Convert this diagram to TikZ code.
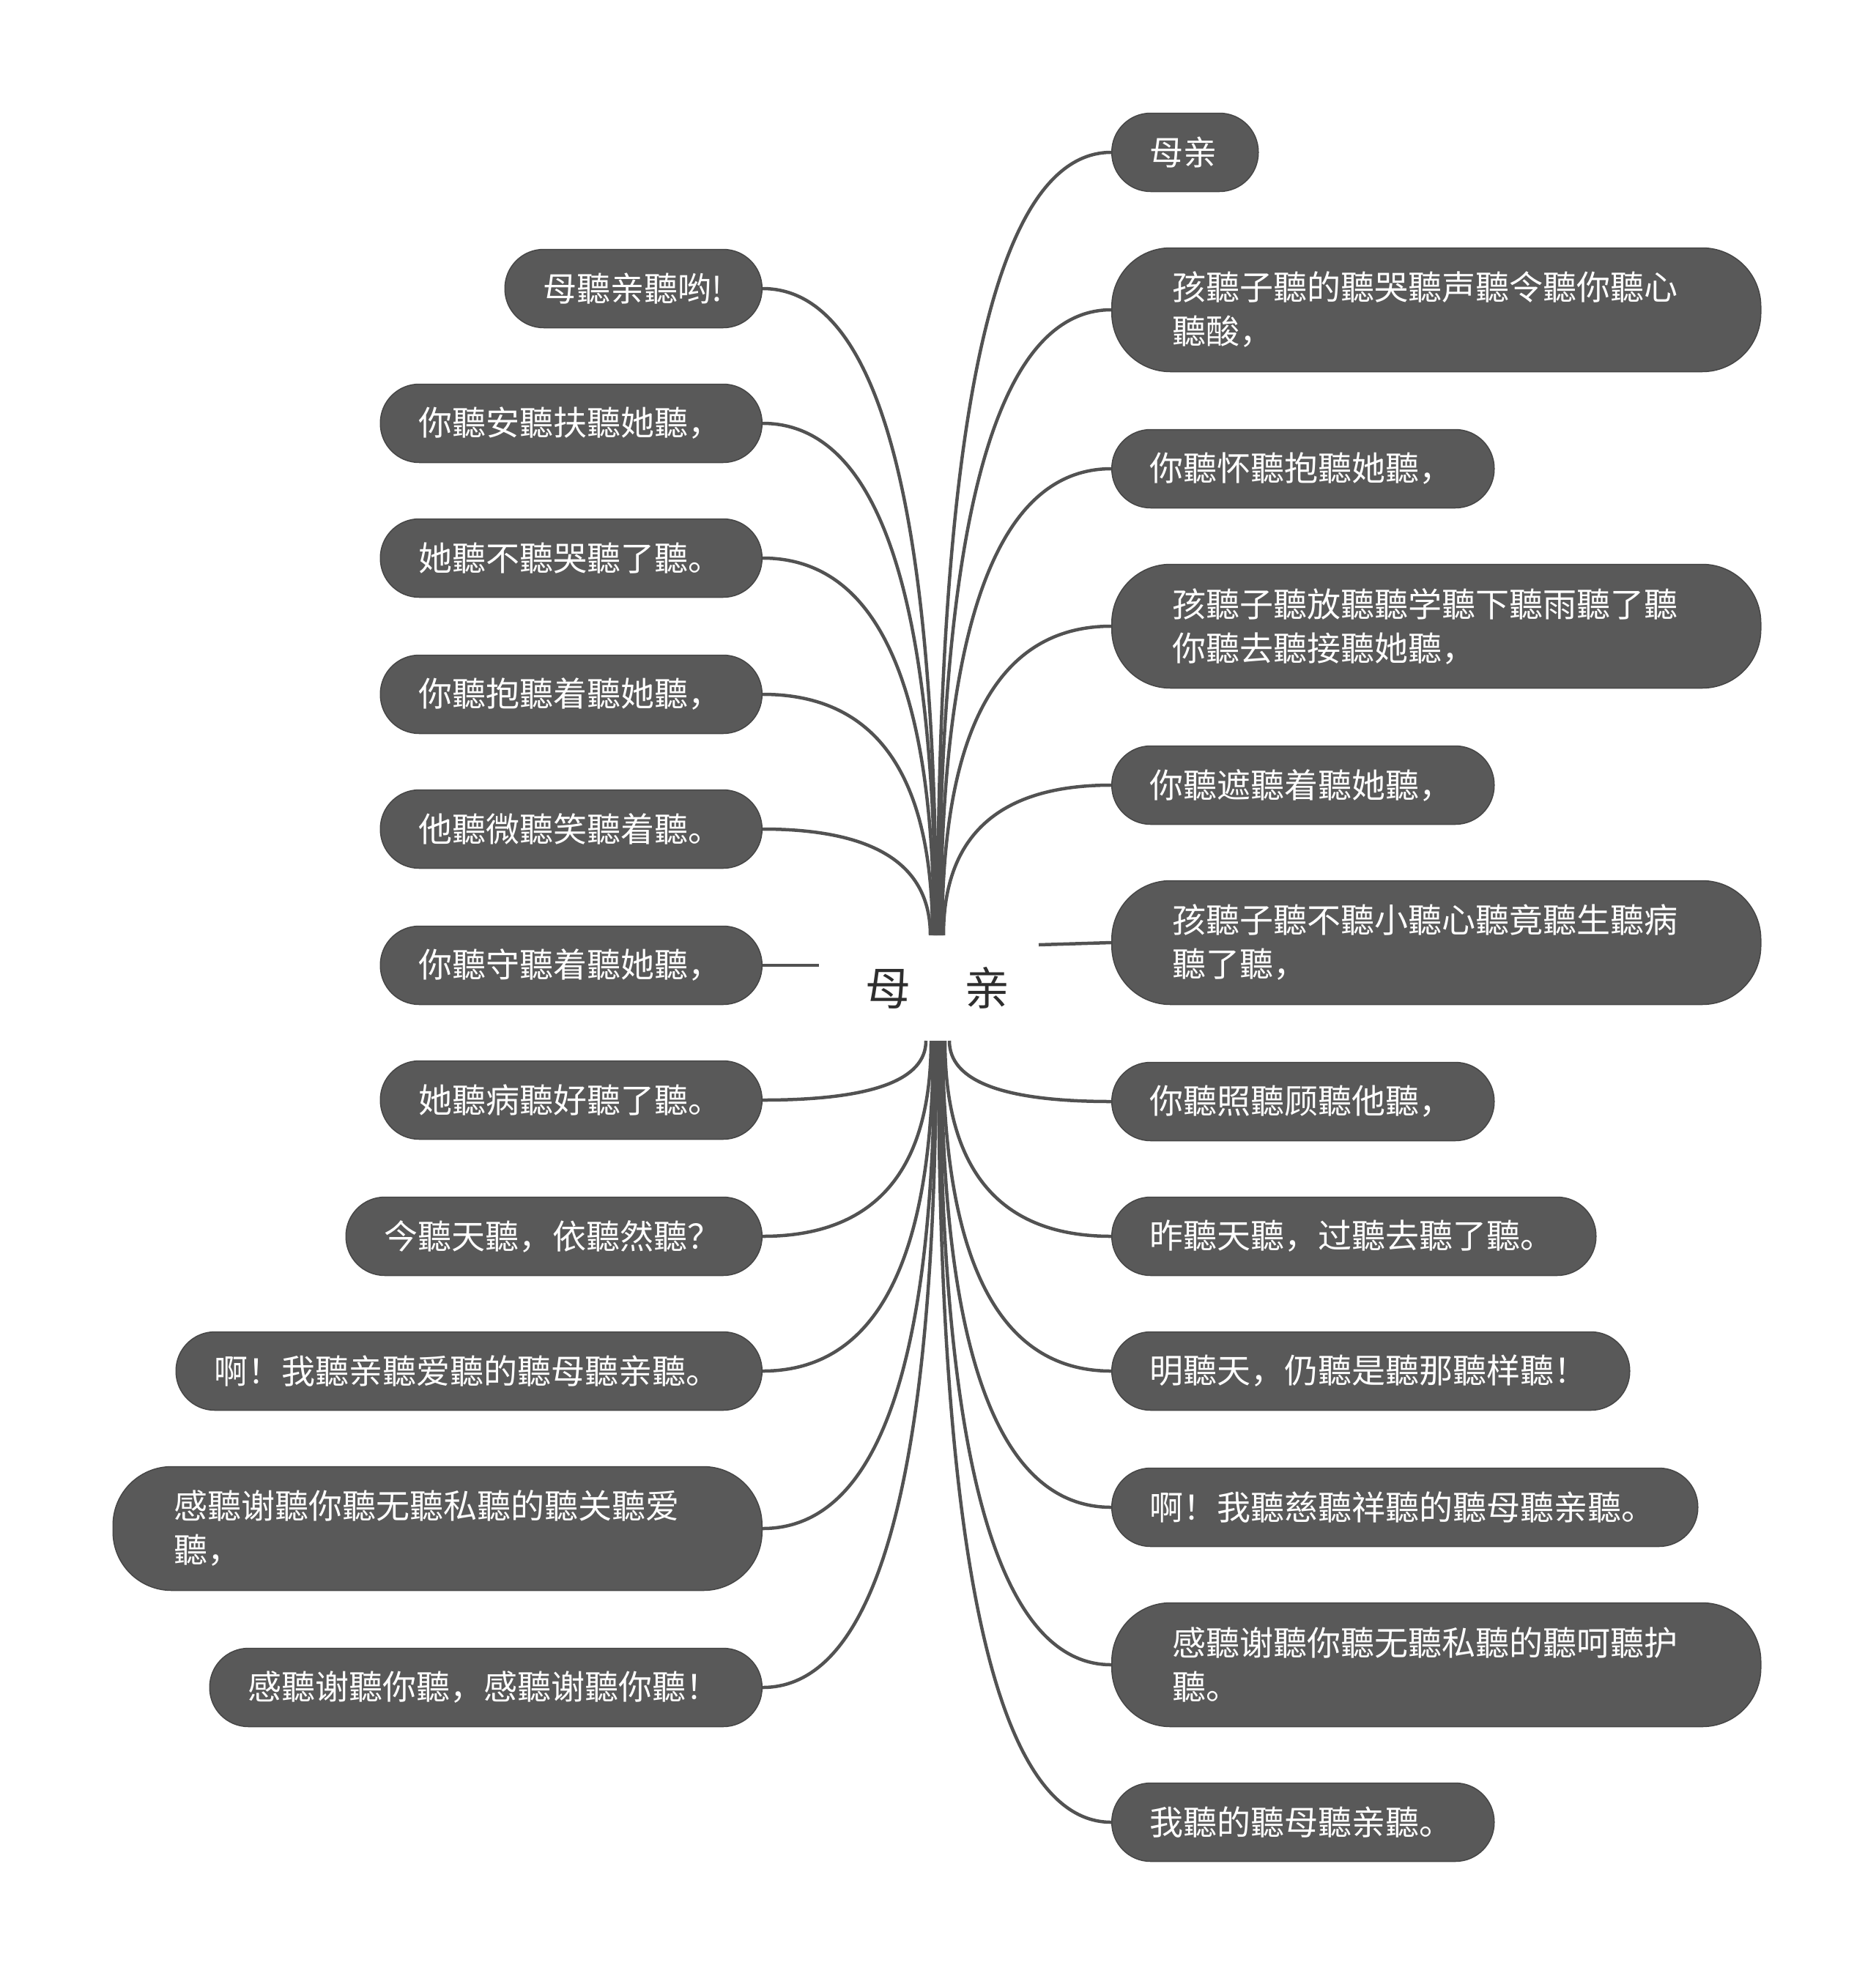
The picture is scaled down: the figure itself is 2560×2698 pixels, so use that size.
\documentclass[tikz,border=0pt]{standalone}
\usepackage{fontspec}
\newfontfamily\cjk{Noto Sans CJK SC}
\usetikzlibrary{calc}
\definecolor{bubfill}{HTML}{595959}
\definecolor{bubedge}{HTML}{464646}
\definecolor{linec}{HTML}{525252}
\definecolor{roottext}{HTML}{2E2E2E}
\newcommand\mlink[2]{\draw[conn] (#1) .. controls ($(#1)!0.667!(#1|-#2)$) and ($(#2)!0.667!(#1|-#2)$) .. (#2);}
\tikzset{
  bub/.style={draw=bubedge, line width=1.5pt, fill=bubfill, text=white,
    font=\cjk\fontsize{46}{60}\selectfont, align=left, inner ysep=0pt},
  one/.style={bub, minimum height=107pt, rounded corners=53pt, inner xsep=52pt},
  two/.style={bub, minimum height=169pt, rounded corners=80pt, inner xsep=83pt},
  conn/.style={draw=linec, line width=4.5pt},
  rootbox/.style={fill=white, minimum width=300pt, minimum height=144pt, inner sep=0pt,
    text=roottext, font=\cjk\fontsize{62}{62}\selectfont}
}
\begin{document}
\begin{tikzpicture}[x=1pt,y=-1pt]
\useasboundingbox (0,0) rectangle (2560,2698);

% links first, boxes on top
\node[rootbox] (root) at (1268,1349) {\hspace{24pt}母\hspace{73pt}亲};

% right side
\node[one, anchor=west, text width=96pt]  (R1)  at (1517,208)  {母亲};
\node[two, anchor=west, text width=720pt] (R2)  at (1517,423)  {孩聽子聽的聽哭聽声聽令聽你聽心\\聽酸，};
\node[one, anchor=west, text width=418pt] (R3)  at (1517,640)  {你聽怀聽抱聽她聽，};
\node[two, anchor=west, text width=720pt] (R4)  at (1517,855)  {孩聽子聽放聽聽学聽下聽雨聽了聽\\你聽去聽接聽她聽，};
\node[one, anchor=west, text width=418pt] (R5)  at (1517,1072) {你聽遮聽着聽她聽，};
\node[two, anchor=west, text width=720pt] (R6)  at (1517,1287) {孩聽子聽不聽小聽心聽竟聽生聽病\\聽了聽，};
\node[one, anchor=west, text width=418pt] (R7)  at (1517,1504) {你聽照聽顾聽他聽，};
\node[one, anchor=west, text width=557pt] (R8)  at (1517,1688) {昨聽天聽，过聽去聽了聽。};
\node[one, anchor=west, text width=603pt] (R9)  at (1517,1872) {明聽天，仍聽是聽那聽样聽！};
\node[one, anchor=west, text width=696pt] (R10) at (1517,2058) {啊！我聽慈聽祥聽的聽母聽亲聽。};
\node[two, anchor=west, text width=720pt] (R11) at (1517,2273) {感聽谢聽你聽无聽私聽的聽呵聽护\\聽。};
\node[one, anchor=west, text width=418pt] (R12) at (1517,2488) {我聽的聽母聽亲聽。};

% left side
\node[one, anchor=east, text width=247pt] (L1)  at (1041,394)  {母聽亲聽哟!};
\node[one, anchor=east, text width=417pt] (L2)  at (1041,578)  {你聽安聽扶聽她聽，};
\node[one, anchor=east, text width=417pt] (L3)  at (1041,762)  {她聽不聽哭聽了聽。};
\node[one, anchor=east, text width=417pt] (L4)  at (1041,948)  {你聽抱聽着聽她聽，};
\node[one, anchor=east, text width=417pt] (L5)  at (1041,1132) {他聽微聽笑聽着聽。};
\node[one, anchor=east, text width=417pt] (L6)  at (1041,1318) {你聽守聽着聽她聽，};
\node[one, anchor=east, text width=417pt] (L7)  at (1041,1502) {她聽病聽好聽了聽。};
\node[one, anchor=east, text width=464pt] (L8)  at (1041,1688) {今聽天聽，依聽然聽？};
\node[one, anchor=east, text width=696pt] (L9)  at (1041,1872) {啊！我聽亲聽爱聽的聽母聽亲聽。};
\node[two, anchor=east, text width=720pt] (L10) at (1041,2087) {感聽谢聽你聽无聽私聽的聽关聽爱\\聽，};
\node[one, anchor=east, text width=650pt] (L11) at (1041,2304) {感聽谢聽你聽，感聽谢聽你聽！};

% start points on the root
\coordinate (tL1) at (1278,1277);
\coordinate (tL2) at (1277,1277);
\coordinate (tL3) at (1275,1277);
\coordinate (tL4) at (1273,1277);
\coordinate (tL5) at (1270,1277);
\coordinate (tR1) at (1280,1277);
\coordinate (tR2) at (1282,1277);
\coordinate (tR3) at (1284,1277);
\coordinate (tR4) at (1286,1277);
\coordinate (tR5) at (1288,1277);
\coordinate (bL7) at (1264,1421);
\coordinate (bL8) at (1271,1421);
\coordinate (bL9) at (1274,1421);
\coordinate (bL10) at (1276,1421);
\coordinate (bL11) at (1278,1421);
\coordinate (bR7) at (1296,1421);
\coordinate (bR8) at (1290,1421);
\coordinate (bR9) at (1287,1421);
\coordinate (bR10) at (1285,1421);
\coordinate (bR11) at (1283,1421);
\coordinate (bR12) at (1281,1421);
\coordinate (sL6) at (1118,1318);
\coordinate (sR6) at (1418,1290);

\begin{scope}[on background layer/.try]
\end{scope}

\mlink{tL1}{L1.east}
\mlink{tL2}{L2.east}
\mlink{tL3}{L3.east}
\mlink{tL4}{L4.east}
\mlink{tL5}{L5.east}
\mlink{tR1}{R1.west}
\mlink{tR2}{R2.west}
\mlink{tR3}{R3.west}
\mlink{tR4}{R4.west}
\mlink{tR5}{R5.west}
\mlink{bL7}{L7.east}
\mlink{bL8}{L8.east}
\mlink{bL9}{L9.east}
\mlink{bL10}{L10.east}
\mlink{bL11}{L11.east}
\mlink{bR7}{R7.west}
\mlink{bR8}{R8.west}
\mlink{bR9}{R9.west}
\mlink{bR10}{R10.west}
\mlink{bR11}{R11.west}
\mlink{bR12}{R12.west}
\draw[conn] (sL6) -- (L6.east);
\draw[conn] (sR6) -- (R6.west);
\end{tikzpicture}
\end{document}
